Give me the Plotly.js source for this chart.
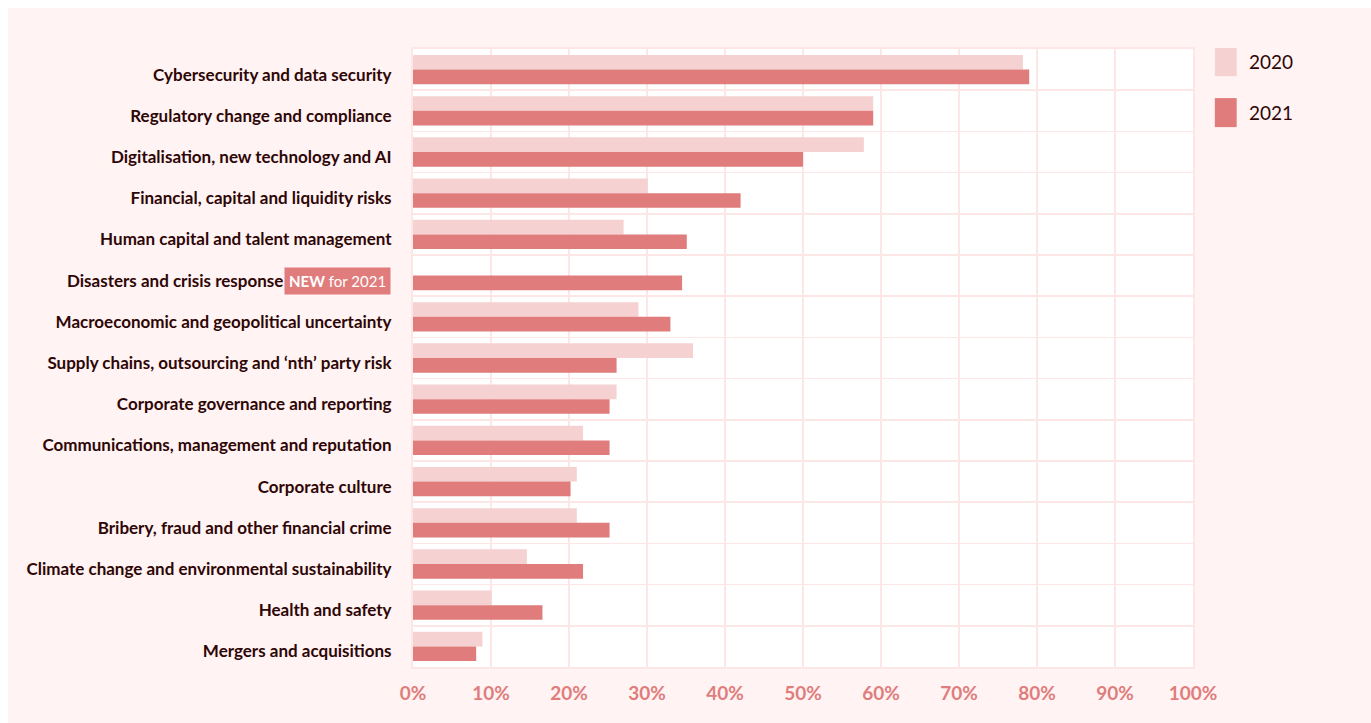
<!DOCTYPE html>
<html><head><meta charset="utf-8">
<script src="https://cdn.plot.ly/plotly-3.0.1.min.js"></script>
<style>
html,body{margin:0;padding:0;background:#ffffff;}
#wrap{position:absolute;left:8px;top:8px;width:1363px;height:715px;overflow:hidden;}
#chart{width:1363px;height:715px;}
</style></head>
<body><div id="wrap"><div id="chart"></div></div>
<script>
const categories = [
  "Cybersecurity and data security",
  "Regulatory change and compliance",
  "Digitalisation, new technology and AI",
  "Financial, capital and liquidity risks",
  "Human capital and talent management",
  "Disasters and crisis response",
  "Macroeconomic and geopolitical uncertainty",
  "Supply chains, outsourcing and \u2018nth\u2019 party risk",
  "Corporate governance and reporting",
  "Communications, management and reputation",
  "Corporate culture",
  "Bribery, fraud and other financial crime",
  "Climate change and environmental sustainability",
  "Health and safety",
  "Mergers and acquisitions"
];
const values2020 = [78.2, 59, 57.8, 30.1, 27, null, 28.9, 35.9, 26.1, 21.8, 21, 21, 14.6, 10.1, 8.9];
const values2021 = [79, 59, 50, 42, 35.1, 34.5, 33, 26.1, 25.2, 25.2, 20.2, 25.2, 21.8, 16.6, 8.1];
const seriesNames = ["2020", "2021"];
const newCategory = "Disasters and crisis response";
const newBadge = "<b>NEW</b> for 2021";
const xTicks = [0,10,20,30,40,50,60,70,80,90,100];
const xTickLabels = ["0%","10%","20%","30%","40%","50%","60%","70%","80%","90%","100%"];

const c2020 = "#f5d1d1", c2021 = "#e07d7c";
const grid = "#fde6e6";
const labelFont = "Lato, Roboto, sans-serif";
const dark = "#2e0606";

const traces = [
  {type:"bar", orientation:"h", name:seriesNames[0], y:categories, x:values2020,
   marker:{color:c2020}, hoverinfo:"x+y"},
  {type:"bar", orientation:"h", name:seriesNames[1], y:categories, x:values2021,
   marker:{color:c2021}, hoverinfo:"x+y"}
];

const layout = {
  width:1363, height:715,
  paper_bgcolor:"#fff3f3", plot_bgcolor:"#ffffff",
  margin:{l:405, r:178, t:41, b:56},
  barmode:"group", bargap:0.29, bargroupgap:0,
  showlegend:false,
  xaxis:{range:[0,100], tickvals:xTicks, ticktext:xTickLabels, showgrid:true, gridcolor:grid, gridwidth:2.5,
    zeroline:false, showline:true, linecolor:grid, linewidth:2, mirror:true,
    tickfont:{family:labelFont, size:19, color:c2021, weight:"bold"}, ticklabelstandoff:8, fixedrange:true},
  yaxis:{type:"category", autorange:"reversed", categoryorder:"array", categoryarray:categories,
    tickvals:categories, ticktext:categories.map(c => c===newCategory ? "" : c),
    tickson:"boundaries", showgrid:true, gridcolor:grid, gridwidth:1.5, ticks:"",
    showline:true, linecolor:grid, linewidth:2, mirror:true, ticklabelshift:-5,
    tickfont:{family:labelFont, size:17, color:dark, weight:"bold"}, ticklabelstandoff:16, fixedrange:true},
  shapes:[
    {type:"rect", xref:"paper", yref:"paper", x0:1.028, x1:1.056, y0:0.956, y1:1.0016, fillcolor:c2020, line:{width:0}},
    {type:"rect", xref:"paper", yref:"paper", x0:1.028, x1:1.056, y0:0.8736, y1:0.9206, fillcolor:c2021, line:{width:0}}
  ],
  annotations:[
    {xref:"paper", yref:"paper", x:1.069, y:0.979, xanchor:"left", yanchor:"middle", showarrow:false,
     text:seriesNames[0], font:{family:labelFont, size:19, color:dark}},
    {xref:"paper", yref:"paper", x:1.069, y:0.897, xanchor:"left", yanchor:"middle", showarrow:false,
     text:seriesNames[1], font:{family:labelFont, size:19, color:dark}},
    {xref:"paper", yref:"y", x:0, y:newCategory, xanchor:"right", yanchor:"middle", xshift:-22, yshift:-5, showarrow:false,
     text:newBadge, bgcolor:c2021, borderpad:4, font:{family:labelFont, size:15, color:"#ffffff"}},
    {xref:"paper", yref:"y", x:0, y:newCategory, xanchor:"right", yanchor:"middle", xshift:-128, yshift:-5, showarrow:false,
     text:"<b>"+newCategory+"</b>", font:{family:labelFont, size:17, color:dark}}
  ]
};
Plotly.newPlot("chart", traces, layout, {displayModeBar:false, staticPlot:true});
</script></body></html>
